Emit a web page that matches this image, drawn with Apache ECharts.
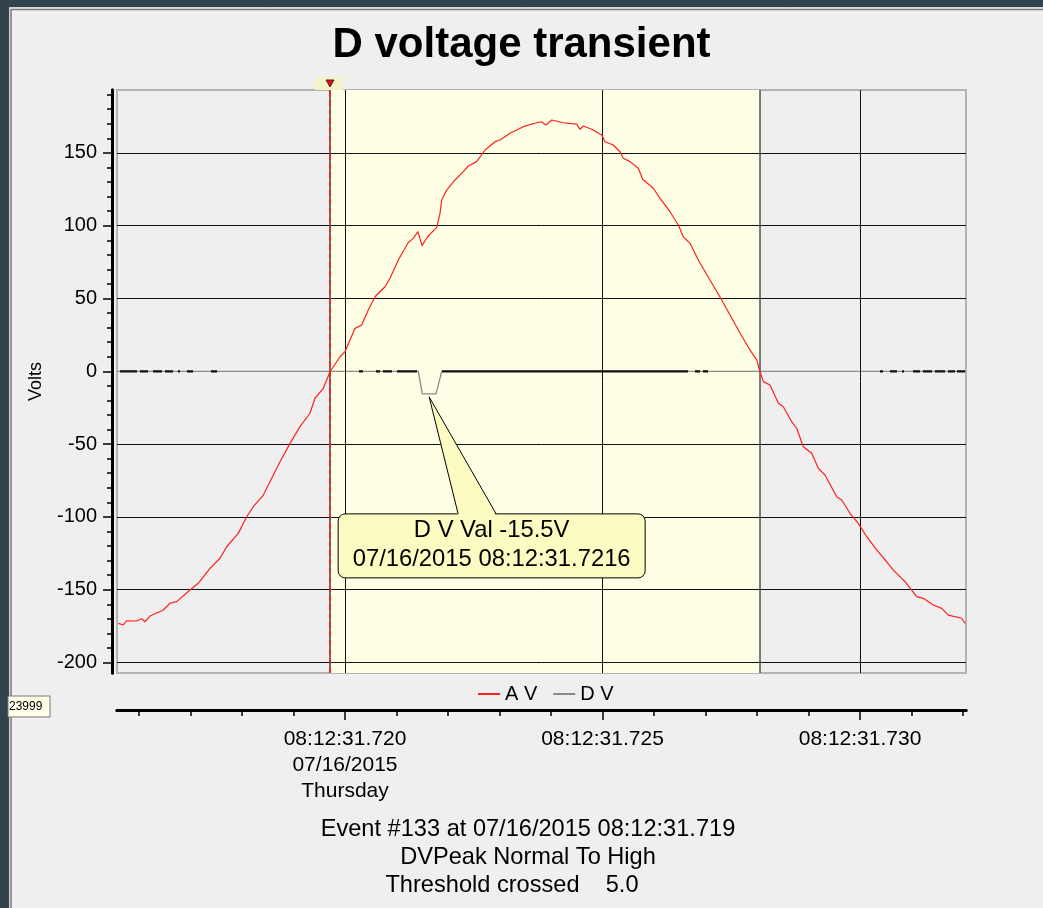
<!DOCTYPE html>
<html><head><meta charset="utf-8">
<script src="https://cdn.jsdelivr.net/npm/echarts@6/dist/echarts.min.js"></script>
<style>html,body{margin:0;padding:0;background:#33434d;}#c{width:1043px;height:908px;}</style>
</head><body><div id="c"></div>
<script>
// ---- data (time in ms after 08:12:31.000, volts) ----
const avTime = [715.598,715.695,715.761,715.955,716.052,716.117,716.214,716.472,716.602,716.732,
716.990,717.151,717.379,717.573,717.703,717.928,718.091,718.219,718.414,718.577,
718.738,718.932,719.126,719.320,719.417,719.579,719.709,719.903,720.000,720.194,
720.324,720.452,720.583,720.777,720.874,721.035,721.229,721.326,721.417,721.495,
721.602,721.781,721.845,721.878,721.975,722.136,722.297,722.394,722.557,722.718,
722.913,723.010,723.204,723.462,723.722,723.819,723.897,724.014,724.239,724.499,
724.563,724.627,724.790,724.984,725.049,725.210,725.340,725.404,725.534,725.695,
725.781,725.986,726.117,726.311,726.472,726.569,726.699,726.860,727.087,727.282,
727.476,727.670,727.864,727.994,728.058,728.122,728.252,728.414,728.511,728.674,
728.771,728.899,729.062,729.190,729.320,729.548,729.645,729.806,729.967,730.130,
730.324,730.518,730.647,730.874,731.101,731.229,731.423,731.586,731.715,731.975,
732.039];
const avVolts = [-173.1,-174.2,-171.3,-171.5,-169.9,-172.0,-168.1,-163.9,-159.3,-158.2,
-150.2,-145.6,-135.3,-128.4,-120.5,-111.3,-99.9,-93.0,-85.0,-73.5,
-62.1,-49.5,-38.0,-28.8,-18.5,-11.7,-0.3,10.0,13.5,29.5,
31.8,42.1,51.2,58.1,63.9,76.4,88.5,91.3,95.9,86.3,
92.4,98.9,108.5,117.7,124.5,131.4,137.1,141.0,144.0,152.0,
157.7,158.9,163.5,168.0,170.7,171.4,169.2,172.6,170.7,169.8,
166.2,168.5,166.2,162.3,157.7,155.4,150.8,146.3,144.0,139.4,
131.9,125.7,118.8,109.6,100.5,92.4,87.9,76.4,62.7,51.0,
38.7,26.3,14.6,7.8,-0.3,-7.1,-9.4,-22.0,-24.3,-34.6,
-39.1,-51.8,-56.3,-66.6,-71.2,-86.1,-88.4,-97.5,-104.4,-113.6,
-122.7,-130.8,-136.5,-144.5,-154.8,-155.9,-160.5,-162.8,-167.4,-169.6,
-173.1];
const dvTime = [715.573,721.423,721.501,721.767,721.878,732.058];
const dvVolts = [0,0,-15.5,-15.5,0,0];
const dashStart = [715.631,716.019,716.272,716.505,716.757,716.932,717.398,720.272,720.602,720.738,721.010,721.883,726.796,726.951,730.388,730.583,730.816,731.029,731.223,731.456,731.709,731.883];
const dashEnd   = [715.961,716.175,716.447,716.660,716.796,717.049,717.515,720.350,720.680,720.913,721.398,726.660,726.893,727.049,730.447,730.718,730.854,731.165,731.398,731.650,731.845,732.039];
const xMajorTicks = [720,725,730];
const xMinorTicks = [716,717,718,719,721,722,723,724,726,727,728,729,731,732];
const xTickLabels = ['08:12:31.720\n07/16/2015\nThursday','08:12:31.725','08:12:31.730'];
const yMajorTicks = [-200,-150,-100,-50,0,50,100,150];
const yMinorTicks = [-200,-190,-180,-170,-160,-150,-140,-130,-120,-110,-100,-90,-80,-70,-60,-50,-40,-30,-20,-10,0,10,20,30,40,50,60,70,80,90,100,110,120,130,140,150,160,170,180,190];
const yGridLines = [-200,-150,-100,-50,50,100,150];
const triggerTime = 719.709;
const windowEnd = 728.058;
const callout = {time: 721.634, value: -15.5, lines: ['D V Val -15.5V','07/16/2015 08:12:31.7216']};
const footerLines = ['Event #133 at 07/16/2015 08:12:31.719','DVPeak Normal To High','Threshold crossed    5.0'];

const FONT = '"Liberation Sans", Arial, sans-serif';
const X_MIN = 715.573, X_MAX = 732.058, Y_MIN = -207.2, Y_MAX = 193.2;
const FOOTER_X = [528, 528, 512];

const chart = echarts.init(document.getElementById('c'), null, {renderer:'canvas'});

const avData = avTime.map((t,i)=>[t, avVolts[i]]);
const dvData = dvTime.map((t,i)=>[t, dvVolts[i]]);
const dashData = [];
dashStart.forEach((s,i)=>{ dashData.push([s,0],[dashEnd[i],0],[dashEnd[i],'-']); });

const xAxisBase = {type:'value', min:X_MIN, max:X_MAX, position:'bottom', offset:37,
  axisLine:{show:true, onZero:false, lineStyle:{color:'#000', width:3}}, splitLine:{show:false}};
const yAxisBase = {type:'value', min:Y_MIN, max:Y_MAX, position:'left', offset:5,
  axisLine:{show:true, onZero:false, lineStyle:{color:'#000', width:3}}, splitLine:{show:false}};

const option = {
  animation:false,
  backgroundColor:'#33434d',
  title:{text:'D voltage transient', left:'center', top:24, padding:0,
    textStyle:{fontFamily:FONT, fontSize:42, fontWeight:'bold', color:'#000'}},
  legend:{data:['A V','D V'], left:473, top:679, icon:'rect', itemWidth:22, itemHeight:2, itemGap:16,
    textStyle:{fontFamily:FONT, fontSize:20, color:'#000', padding:[0,0,0,0]}},
  grid:{left:117, top:90, width:849, height:583, show:true, borderColor:'#b4b4b4', borderWidth:2, backgroundColor:'transparent'},
  xAxis:[
    Object.assign({}, xAxisBase, {
      axisTick:{show:true, customValues:xMajorTicks, length:10, lineStyle:{color:'#000', width:1.5}},
      axisLabel:{show:true, customValues:xMajorTicks, margin:16, fontFamily:FONT, fontSize:21, lineHeight:26, color:'#000',
        formatter:function(v){ for(let i=0;i<xMajorTicks.length;i++){ if(Math.abs(xMajorTicks[i]-v)<1e-6) return xTickLabels[i]; } return ''; }}
    }),
    Object.assign({}, xAxisBase, {
      axisTick:{show:true, customValues:xMinorTicks, length:6, lineStyle:{color:'#000', width:1.5}},
      axisLabel:{show:false}
    })
  ],
  yAxis:[
    Object.assign({}, yAxisBase, {
      name:'Volts', nameLocation:'middle', nameGap:67, nameRotate:90,
      nameTextStyle:{fontFamily:FONT, fontSize:18, color:'#000'},
      axisTick:{show:true, customValues:yMajorTicks, length:9, lineStyle:{color:'#000', width:1.5}},
      axisLabel:{show:true, customValues:yMajorTicks, margin:15, fontFamily:FONT, fontSize:20, color:'#000'}
    }),
    Object.assign({}, yAxisBase, {
      axisTick:{show:true, customValues:yMinorTicks, length:5, lineStyle:{color:'#000', width:1.5}},
      axisLabel:{show:false}
    })
  ],
  series:[
    {name:'bg', type:'line', data:[], xAxisIndex:0, yAxisIndex:0, silent:true, z:1,
      markArea:{silent:true, itemStyle:{color:'#ffffe6'}, data:[[{xAxis:triggerTime},{xAxis:windowEnd}]]},
      markLine:{silent:true, symbol:'none', label:{show:false}, lineStyle:{color:'#111', width:1, type:'solid'},
        data: yGridLines.map(v=>({yAxis:v})).concat(xMajorTicks.map(v=>({xAxis:v})))
          .concat([{xAxis:windowEnd, lineStyle:{color:'#505050', width:1.5, type:'solid'}}])}
    },
    {name:'trigger', type:'line', data:[], xAxisIndex:0, yAxisIndex:0, silent:true, z:2,
      markLine:{silent:true, symbol:'none', label:{show:false},
        data:[{xAxis:triggerTime, lineStyle:{color:'#444', width:1.5, type:'solid'}},
              {xAxis:triggerTime, lineStyle:{color:'#ff1a1a', width:1.5, type:[6,3]}}]}
    },
    {name:'D V', type:'line', data:dvData, xAxisIndex:0, yAxisIndex:0, symbol:'none', z:3,
      lineStyle:{color:'#8a8a8a', width:1.3}, itemStyle:{color:'#8a8a8a'}},
    {name:'dash', type:'line', data:dashData, xAxisIndex:0, yAxisIndex:0, symbol:'none', z:4, connectNulls:false,
      lineStyle:{color:'#111', width:2.2}, itemStyle:{color:'#111'}},
    {name:'A V', type:'line', data:avData, xAxisIndex:0, yAxisIndex:0, symbol:'none', z:5,
      lineStyle:{color:'#ff2020', width:1.2}, itemStyle:{color:'#ff2020'}}
  ]
};
chart.setOption(option);

// decorations positioned through the chart's own scales
const tip = chart.convertToPixel({xAxisIndex:0, yAxisIndex:0}, [callout.time, callout.value]);
const trig = chart.convertToPixel({xAxisIndex:0, yAxisIndex:0}, [triggerTime, Y_MAX]);
const tx = tip[0], ty = tip[1] + 3;
const boxL = tx - 91, boxT = ty + 117, boxW = 307, boxH = 64;
const graphics = [
  {type:'rect', z:-100, silent:true, shape:{x:9.5, y:7.5, width:1040, height:905}, style:{fill:'#efefef', stroke:'#d2d2d2', lineWidth:1}},
  {type:'rect', z:-99, silent:true, shape:{x:11, y:9.5, width:1040, height:905}, style:{fill:'#efefef', stroke:'#7a7a7a', lineWidth:1.5}},
  // trigger marker at top
  {type:'rect', z:100, silent:true, shape:{x:trig[0]-15, y:trig[1]-13, width:28, height:13}, style:{fill:'#f4f2c8'}},
  {type:'polygon', z:101, silent:true, shape:{points:[[trig[0]-4,trig[1]-10],[trig[0]+4,trig[1]-10],[trig[0],trig[1]-3]]}, style:{fill:'#ff0000', stroke:'#333', lineWidth:1}},
  // callout
  {type:'rect', z:100, silent:true, shape:{x:boxL, y:boxT, width:boxW, height:boxH, r:7}, style:{fill:'#fbfbc2', stroke:'#000', lineWidth:1}},
  {type:'polygon', z:101, silent:true, shape:{points:[[tx,ty],[tx+29,boxT+2],[tx+67,boxT+2]]}, style:{fill:'#fbfbc2'}},
  {type:'polyline', z:102, silent:true, shape:{points:[[tx+29,boxT],[tx,ty],[tx+67,boxT]]}, style:{stroke:'#000', lineWidth:1, fill:null}},
  {type:'text', z:103, silent:true, style:{text:callout.lines[0], x:boxL+boxW/2, y:boxT+17, align:'center', verticalAlign:'middle', font:'23.8px '+FONT, fill:'#000'}},
  {type:'text', z:103, silent:true, style:{text:callout.lines[1], x:boxL+boxW/2, y:boxT+46, align:'center', verticalAlign:'middle', font:'23.8px '+FONT, fill:'#000'}},
  // small side box
  {type:'rect', z:100, silent:true, shape:{x:8, y:696, width:42, height:21}, style:{fill:'#ffffe8', stroke:'#777', lineWidth:1}},
  {type:'text', z:101, silent:true, style:{text:'23999', x:9, y:706.5, align:'left', verticalAlign:'middle', font:'12px '+FONT, fill:'#000'}}
];
footerLines.forEach((s,i)=>{
  graphics.push({type:'text', z:100, silent:true, style:{text:s, x:FOOTER_X[i], y:829+i*28, align:'center', verticalAlign:'middle', font:'23.6px '+FONT, fill:'#000'}});
});
chart.setOption({graphic:graphics});
</script>
</body></html>
